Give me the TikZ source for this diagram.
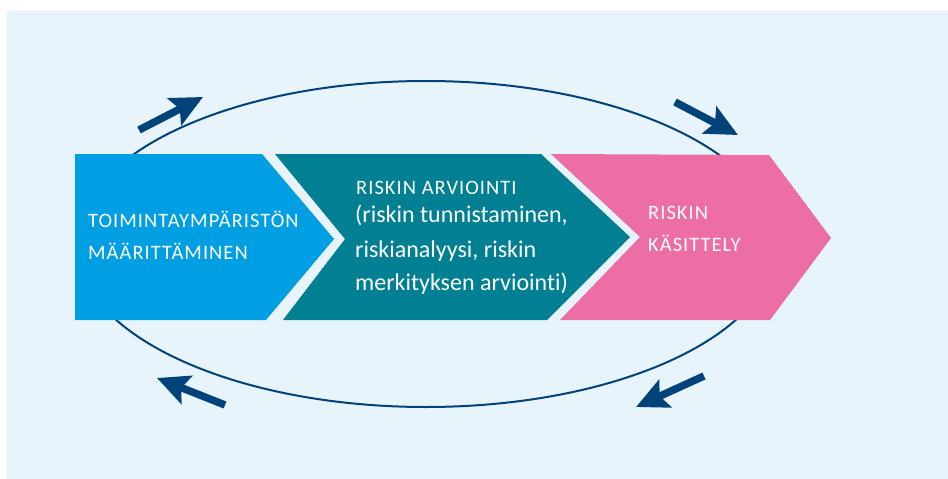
\documentclass[tikz,border=0pt]{standalone}
\usepackage{fontspec}
\setmainfont[Ligatures=NoCommon]{Carlito}
\newfontfamily\capsfont[LetterSpace=5]{Carlito}
\usepackage{tikz}
\usetikzlibrary{calc, positioning, arrows.meta}
\definecolor{bgblue}{RGB}{232,244,252}
\definecolor{stepblue}{RGB}{0,159,227}
\definecolor{stepteal}{RGB}{0,128,146}
\definecolor{steppink}{RGB}{236,110,165}
\definecolor{cycleblue}{RGB}{0,66,122}
\tikzstyle{cycle line}=[draw=cycleblue, line width=2pt]
\tikzstyle{cycle arrow}=[draw=cycleblue, line width=7.5pt, -{Stealth[length=32pt,width=30pt,inset=6pt]}]
\tikzstyle{caps label}=[anchor=base west, inner sep=0pt, text=white, font=\capsfont\fontsize{20.5}{20}\selectfont]
\tikzstyle{text label}=[anchor=base west, inner sep=0pt, text=white, font=\fontsize{24}{24}\selectfont]

\begin{document}
\begin{tikzpicture}[x=1pt, y=-1pt]
		\useasboundingbox (0,0) rectangle (948,479);
		\fill[bgblue] (7,11) rectangle (948,479);
		% the cycle behind the steps
		\draw[cycle line] (426,244) ellipse [x radius=350, y radius=163];
		% three steps
		\fill[stepblue] (75,154) -- (262,154) -- (334,239) -- (266,320) -- (75,320) -- cycle;
		\fill[stepteal] (275,154) -- (541,154) -- (630,237) -- (547,320) -- (283,320) -- (345,239) -- cycle;
		\fill[steppink] (551,154) -- (769,155) -- (831,238) -- (770,320) -- (560,320) -- (640,237) -- cycle;
		\node[caps label] (T-1) at (88,227) {TOIMINTAYMPÄRISTÖN};
		\node[caps label] (T-2) at (88,259) {MÄÄRITTÄMINEN};
		\node[caps label] (A-1) at (356,194) {RISKIN ARVIOINTI};
		\node[text label] (A-2) at (355,222) {(riskin tunnistaminen,};
		\node[text label] (A-3) at (355,257) {riskianalyysi, riskin};
		\node[text label] (A-4) at (355,290) {merkityksen arviointi)};
		\node[caps label] (K-1) at (648,219) {RISKIN};
		\node[caps label] (K-2) at (648,251) {KÄSITTELY};
		% direction of the cycle
		\coordinate (a1) at (139,130);
		\coordinate (b1) at (203,97);
		\coordinate (a2) at (675,102);
		\coordinate (b2) at (738,135);
		\coordinate (a3) at (704,376);
		\coordinate (b3) at (636,407);
		\coordinate (a4) at (225,405);
		\coordinate (b4) at (157,378);
		\foreach \i in {1,...,4}
			\draw[cycle arrow] (a\i) -- (b\i);
	\end{tikzpicture}
\end{document}
